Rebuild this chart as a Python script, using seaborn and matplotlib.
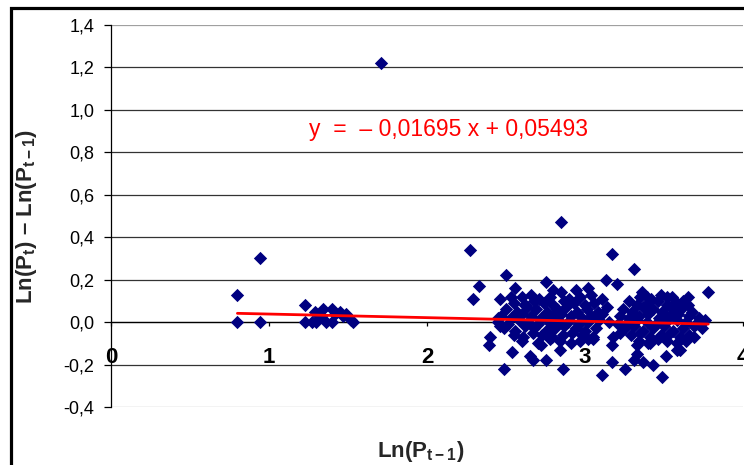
import matplotlib
matplotlib.use("Agg")
import matplotlib.pyplot as plt
from matplotlib.patches import Rectangle
import numpy as np
import pandas as pd
import seaborn as sns

# --- data ------------------------------------------------------------------
# small groups on the left
x_left = [0.80, 0.80, 0.94, 0.94,
          1.23, 1.23, 1.27, 1.29, 1.30, 1.33, 1.34, 1.36, 1.40, 1.40,
          1.42, 1.45, 1.47, 1.49, 1.52, 1.53, 1.71]
y_left = [0.13, 0.00, 0.30, 0.00,
          0.08, 0.00, 0.00, 0.05, 0.00, 0.03, 0.06, 0.00, 0.06, 0.00,
          0.04, 0.05, 0.03, 0.04, 0.01, 0.00, 1.22]

# scattered points around the main cloud
x_spread = [2.27, 2.50, 2.33, 2.29, 2.46, 2.53, 2.56, 2.85, 3.17, 3.31, 3.78,
            2.75, 2.80, 2.94, 3.02, 3.13, 3.20, 3.11, 3.39, 3.52, 3.65, 3.57,
            2.49, 2.40, 2.39, 2.54, 2.65, 2.67, 2.75, 2.86, 2.72, 2.84, 3.11,
            3.17, 3.17, 3.25, 3.31, 3.33, 3.33, 3.37, 3.43, 3.41, 3.49, 3.51,
            3.58, 3.64, 3.18, 3.05, 3.22, 2.45, 2.46, 2.62, 3.36, 3.69, 3.60]
y_spread = [0.34, 0.22, 0.17, 0.11, 0.11, 0.12, 0.16, 0.47, 0.32, 0.25, 0.14,
            0.19, 0.15, 0.15, 0.16, 0.20, 0.18, 0.11, 0.12, 0.12, 0.12, 0.09,
            -0.22, -0.07, -0.11, -0.14, -0.16, -0.18, -0.18, -0.22, -0.11, -0.13, -0.25,
            -0.11, -0.19, -0.22, -0.18, -0.11, -0.15, -0.19, -0.20, -0.10, -0.26, -0.16,
            -0.13, -0.09, -0.07, -0.08, -0.05, 0.02, -0.02, 0.08, 0.14, -0.07, -0.13]

# dense core of the cloud
x_core = [2.60, 2.66, 2.71, 2.78, 2.85, 2.90, 2.97, 3.04, 3.35, 3.42, 3.48, 3.55, 3.62,
          2.55, 2.62, 2.68, 2.74, 2.80, 2.87, 2.93, 3.00, 3.06, 3.28, 3.33, 3.40, 3.46,
          3.52, 3.58, 3.65,
          2.50, 2.57, 2.63, 2.69, 2.76, 2.82, 2.88, 2.95, 3.01, 3.08, 3.14, 3.24, 3.30,
          3.37, 3.43, 3.49, 3.56, 3.62, 3.68,
          2.47, 2.53, 2.60, 2.66, 2.72, 2.79, 2.85, 2.91, 2.98, 3.04, 3.11, 3.22, 3.28,
          3.34, 3.40, 3.47, 3.53, 3.59, 3.66, 3.72,
          2.45, 2.51, 2.58, 2.64, 2.70, 2.77, 2.83, 2.89, 2.96, 3.02, 3.09, 3.15, 3.21,
          3.27, 3.33, 3.39, 3.45, 3.51, 3.58, 3.64, 3.70, 3.76,
          2.49, 2.56, 2.62, 2.68, 2.75, 2.81, 2.87, 2.94, 3.00, 3.07, 3.25, 3.31, 3.37,
          3.43, 3.50, 3.56, 3.62, 3.69, 3.74,
          2.55, 2.61, 2.67, 2.73, 2.79, 2.86, 2.92, 2.98, 3.05, 3.29, 3.35, 3.41, 3.48,
          3.54, 3.60, 3.66,
          2.60, 2.70, 2.78, 2.84, 2.91, 2.97, 3.02, 3.34, 3.40, 3.46, 3.52, 3.58]
y_core = [0.12, 0.13, 0.11, 0.12, 0.14, 0.11, 0.12, 0.13, 0.12, 0.11, 0.13, 0.12, 0.10,
          0.09, 0.08, 0.10, 0.09, 0.08, 0.10, 0.09, 0.08, 0.09, 0.10, 0.08, 0.09, 0.10,
          0.08, 0.09, 0.08,
          0.06, 0.05, 0.07, 0.06, 0.05, 0.06, 0.07, 0.05, 0.06, 0.05, 0.07, 0.06, 0.05,
          0.07, 0.06, 0.05, 0.06, 0.07, 0.05,
          0.03, 0.02, 0.04, 0.03, 0.02, 0.03, 0.04, 0.03, 0.02, 0.03, 0.04, 0.03, 0.02,
          0.03, 0.04, 0.02, 0.03, 0.04, 0.03, 0.02,
          0.00, -0.01, 0.01, 0.00, -0.01, 0.00, 0.01, 0.00, -0.01, 0.00, 0.01, 0.00, -0.01,
          0.00, 0.01, 0.00, -0.01, 0.00, 0.01, 0.00, -0.01, 0.01,
          -0.03, -0.04, -0.02, -0.03, -0.04, -0.03, -0.02, -0.03, -0.04, -0.03, -0.03, -0.02, -0.04,
          -0.03, -0.02, -0.04, -0.03, -0.02, -0.03,
          -0.06, -0.07, -0.05, -0.06, -0.07, -0.06, -0.05, -0.06, -0.07, -0.06, -0.05, -0.07, -0.06,
          -0.05, -0.07, -0.06,
          -0.09, -0.10, -0.08, -0.09, -0.10, -0.09, -0.08, -0.09, -0.10, -0.08, -0.09, -0.10]

slope = -0.01695
intercept = 0.05493

y_ticks = [-0.4, -0.2, 0.0, 0.2, 0.4, 0.6, 0.8, 1.0, 1.2, 1.4]
y_ticklabels = ["-0,4", "-0,2", "0,0", "0,2", "0,4", "0,6", "0,8", "1,0", "1,2", "1,4"]
x_ticks = [0, 1, 2, 3, 4]
x_ticklabels = ["0", "1", "2", "3", "4"]

# --- frame ------------------------------------------------------------------
df = pd.DataFrame({"x": x_left + x_spread + x_core,
                   "y": y_left + y_spread + y_core})
line_x = np.array([df["x"].min(), df["x"].max()])
trend = pd.DataFrame({"x": line_x, "y": slope * line_x + intercept})

sns.set_style("white")
plt.rcParams["font.family"] = ["Liberation Sans", "DejaVu Sans"]
plt.rcParams["mathtext.fontset"] = "custom"
plt.rcParams["mathtext.rm"] = "Liberation Sans"
plt.rcParams["mathtext.bf"] = "Liberation Sans:bold"

fig = plt.figure(figsize=(7.44, 4.65), dpi=100)
ax = fig.add_axes([111 / 744, 1 - 407 / 465, 632 / 744, 382 / 465])

sns.scatterplot(data=df, x="x", y="y", marker="D", s=46, color="#000080",
                linewidth=0, ax=ax, zorder=3)
sns.lineplot(data=trend, x="x", y="y", color="#ff0000", linewidth=2.0,
             ax=ax, zorder=4)

ax.set_xlim(0, 4)
ax.set_ylim(-0.4, 1.4)
ax.set_yticks(y_ticks)
ax.set_yticklabels(y_ticklabels)
ax.set_xticks(x_ticks)
ax.set_xticklabels(x_ticklabels)

ax.grid(axis="y", color="#333333", linewidth=0.9)
gl = ax.yaxis.get_gridlines()
gl[0].set_color("#a0a0a0")
gl[-1].set_color("#a0a0a0")

for side in ["top", "right"]:
    ax.spines[side].set_visible(False)
ax.spines["bottom"].set_position(("data", 0))
ax.spines["bottom"].set_color("black")
ax.spines["bottom"].set_linewidth(0.9)
ax.spines["left"].set_color("black")
ax.spines["left"].set_linewidth(0.9)

ax.tick_params(axis="y", direction="out", length=5, width=0.9, pad=7,
               labelsize=13, colors="black", left=True)
ax.tick_params(axis="x", direction="out", length=3, width=0.9, pad=15,
               labelsize=16, colors="black", bottom=True)
plt.setp(ax.get_xticklabels(), fontweight="bold")

ax.set_xlabel(r"Ln(P$_\mathbf{t-1}$)", fontsize=16, fontweight="bold")
ax.xaxis.set_label_coords(0.49, -0.085)
ax.set_ylabel(r"Ln(P$_\mathbf{t}$) – Ln(P$_\mathbf{t-1}$)", fontsize=16,
              fontweight="bold")
ax.yaxis.set_label_coords(-0.114, 0.5)

ax.text(2.136, 0.908, "y  =  – 0,01695 x + 0,05493", color="#ff0000",
        fontsize=16.5, ha="center", va="center")

fig.add_artist(Rectangle((10.5 / 744, -0.1), 1.2, 1 - 8.5 / 465 + 0.1,
                         transform=fig.transFigure, fill=False,
                         edgecolor="black", linewidth=2.3, clip_on=False))

fig.savefig("out.png", dpi=100)
